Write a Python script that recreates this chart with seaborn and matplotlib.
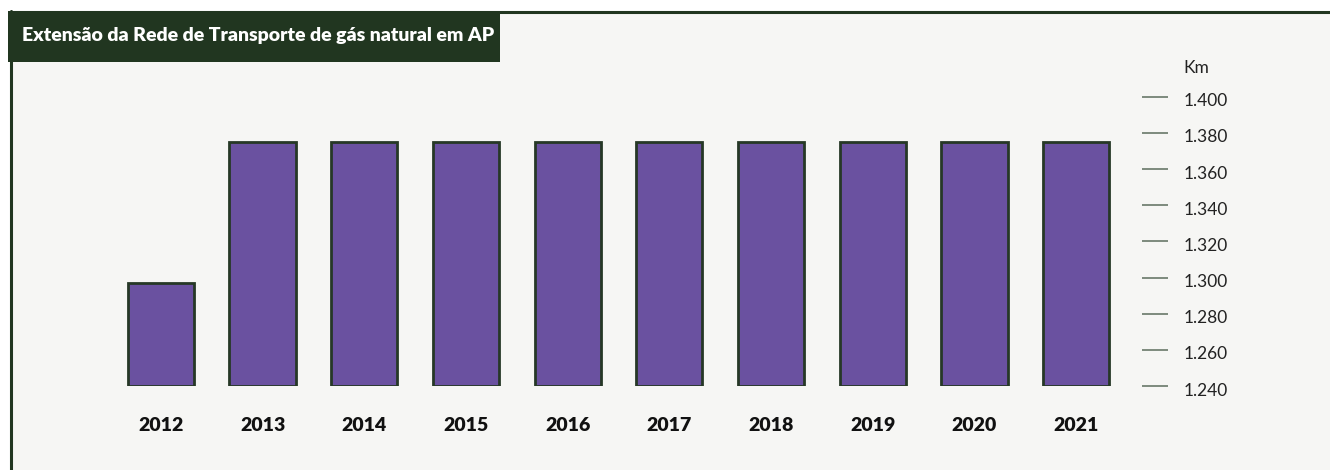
import matplotlib.pyplot as plt
import matplotlib.patches as mpatches
import matplotlib.ticker as mticker
import matplotlib.transforms as mtrans
import seaborn as sns
import pandas as pd

# data (km)
years = ["2012", "2013", "2014", "2015", "2016", "2017", "2018", "2019", "2020", "2021"]
km = [1297, 1375, 1375, 1375, 1375, 1375, 1375, 1375, 1375, 1375]
yticks = [1240, 1260, 1280, 1300, 1320, 1340, 1360, 1380, 1400]

title = "Extensão da Rede de Transporte de gás natural em AP"
unit = "Km"

sns.set_style("white")
plt.rcParams["font.family"] = ["Lato", "DejaVu Sans"]

W, H = 1330, 470
fig = plt.figure(figsize=(W / 100, H / 100), dpi=100)
fig.patch.set_facecolor("white")

dark = "#213620"
bg = "#f6f6f4"

# panel background + frame
fig.patches.append(mpatches.Rectangle((11 / W, 0), 1 - 11 / W, (H - 12) / H,
                                      transform=fig.transFigure, facecolor=bg,
                                      edgecolor="none", zorder=-5))
fig.add_artist(plt.Line2D([10.5 / W, 10.5 / W], [0, (H - 11) / H], color=dark, lw=2.2,
                          transform=fig.transFigure))
fig.add_artist(plt.Line2D([10 / W, 1], [(H - 11.5) / H, (H - 11.5) / H], color=dark, lw=2.2,
                          transform=fig.transFigure))
# title box
fig.patches.append(mpatches.Rectangle((8 / W, (H - 62) / H), 492 / W, 51 / H,
                                      transform=fig.transFigure, facecolor=dark,
                                      edgecolor="none", zorder=2))
fig.text(22 / W, (H - 36) / H, title, color="white", fontsize=14, fontweight="heavy",
         va="center", ha="left", zorder=3)

# axes
left, right = 110, 1142
top, bottom = 96.7, 386
ax = fig.add_axes([left / W, (H - bottom) / H, (right - left) / W, (bottom - top) / H])
ax.set_facecolor("none")

df = pd.DataFrame({"ano": years, "km": km})
sns.barplot(data=df, x="ano", y="km", color="#6a51a0", width=0.65, saturation=1,
            edgecolor="#263826", linewidth=2, ax=ax)

base = yticks[0]
for p in ax.patches:
    h = p.get_height()
    p.set_y(base)
    p.set_height(h - base)

scale = 101.7
ax.set_xlim(-0.5, -0.5 + (right - left) / scale)
ax.set_ylim(yticks[0], yticks[-1])
ax.set_yticks(yticks)
ax.yaxis.set_major_formatter(mticker.FuncFormatter(lambda v, _: f"{v/1000:.3f}"))
ax.yaxis.tick_right()
ax.tick_params(axis="y", direction="out", length=19, width=1.1, color="#5d6e5d",
               pad=11, labelsize=12.5, labelcolor="#222222", right=True, left=False)
ax.tick_params(axis="x", length=0, pad=22, labelsize=14, labelcolor="#111111")
for lbl in ax.get_xticklabels():
    lbl.set_fontweight("heavy")
shift = mtrans.ScaledTranslation(0, -3 / 100, fig.dpi_scale_trans)
for lbl in ax.get_yticklabels():
    lbl.set_transform(lbl.get_transform() + shift)
ax.set_xlabel("")
ax.set_ylabel("")
sns.despine(ax=ax, left=True, bottom=True, right=True, top=True)

fig.text(1183 / W, (H - 68) / H, unit, fontsize=12.5, color="#222222", va="center", ha="left")

fig.savefig("out.png", dpi=100, facecolor=fig.get_facecolor())
